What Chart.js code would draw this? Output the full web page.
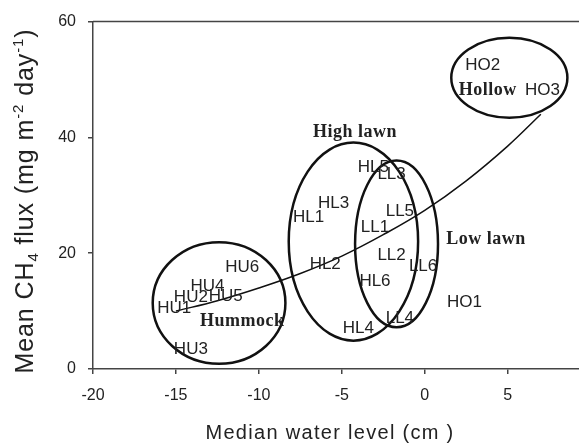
<!DOCTYPE html>
<html>
<head>
<meta charset="utf-8">
<script src="https://cdn.jsdelivr.net/npm/chart.js@4.4.1/dist/chart.umd.min.js"></script>
<style>
  html, body { margin: 0; padding: 0; background: #fff; }
  #wrap { position: relative; width: 579px; height: 445px; }
</style>
</head>
<body>
<div id="wrap"><canvas id="chart"></canvas></div>
<script>
// Sites: median water level (cm) vs mean CH4 flux
const siteNames = ['HU1', 'HU2', 'HU3', 'HU4', 'HU5', 'HU6',
                   'HL1', 'HL2', 'HL3', 'HL4', 'HL5', 'HL6',
                   'LL1', 'LL2', 'LL3', 'LL4', 'LL5', 'LL6',
                   'HO1', 'HO2', 'HO3'];
const waterLevel = [-15.1, -14.1, -14.1, -13.1, -12.0, -11.0,
                    -7.0, -6.0, -5.5, -4.0, -3.1, -3.0,
                    -3.0, -2.0, -2.0, -1.5, -1.5, -0.1,
                    2.4, 3.5, 7.1];
const ch4Flux = [10.5, 12.3, 3.4, 14.2, 12.6, 17.5,
                 26.2, 18.1, 28.7, 7.0, 34.8, 15.1,
                 24.5, 19.7, 33.7, 8.8, 27.3, 17.7,
                 11.6, 52.4, 48.2];

// Fitted curve
const curveX = [-15, -12.5, -10, -7.5, -5, -2.5, 0, 2.5, 5, 7];
const curveY = [10.0, 11.8, 14.0, 16.5, 19.5, 23.2, 27.4, 32.5, 38.5, 44.0];

// Vegetation groups (ellipse centre / half-widths and label spot, in data units)
const groupNames = ['Hummock', 'High lawn', 'Low lawn', 'Hollow'];
const groupCenterX = [-12.4, -4.3, -1.7, 5.1];
const groupCenterY = [11.4, 22.0, 21.6, 50.3];
const groupRadiusX = [4.0, 3.9, 2.5, 3.5];
const groupRadiusY = [10.5, 17.1, 14.4, 6.9];
const groupLabelX = [-11.0, -4.2, 3.7, 3.8];
const groupLabelY = [8.2, 40.8, 22.4, 48.2];

const xTicks = [-20, -15, -10, -5, 0, 5];
const yTicks = [0, 20, 40, 60];

const sans = '"Liberation Sans", Arial, sans-serif';
const serif = '"Liberation Serif", "Times New Roman", serif';
const ink = '#222';
const axisColor = '#444';

const drawExtras = {
    id: 'drawExtras',
    afterDatasetsDraw(chart) {
        const { ctx, chartArea, scales: { x, y } } = chart;
        ctx.save();

        // top frame line
        ctx.strokeStyle = axisColor;
        ctx.lineWidth = 1.5;
        ctx.beginPath();
        ctx.moveTo(chartArea.left, chartArea.top);
        ctx.lineTo(chartArea.right, chartArea.top);
        ctx.stroke();

        // group ellipses
        ctx.strokeStyle = '#111';
        ctx.lineWidth = 2.5;
        groupNames.forEach((g, i) => {
            const cx = x.getPixelForValue(groupCenterX[i]);
            const cy = y.getPixelForValue(groupCenterY[i]);
            const rx = Math.abs(x.getPixelForValue(groupCenterX[i] + groupRadiusX[i]) - cx);
            const ry = Math.abs(y.getPixelForValue(groupCenterY[i] + groupRadiusY[i]) - cy);
            ctx.beginPath();
            ctx.ellipse(cx, cy, rx, ry, 0, 0, Math.PI * 2);
            ctx.stroke();
        });

        // site labels at each point
        const meta = chart.getDatasetMeta(0);
        ctx.fillStyle = ink;
        ctx.font = '17px ' + sans;
        ctx.textAlign = 'center';
        ctx.textBaseline = 'middle';
        meta.data.forEach((pt, i) => {
            ctx.fillText(siteNames[i], pt.x, pt.y);
        });

        // group names
        ctx.font = 'bold 18px ' + serif;
        ctx.letterSpacing = '0.5px';
        groupNames.forEach((g, i) => {
            ctx.fillText(g, x.getPixelForValue(groupLabelX[i]), y.getPixelForValue(groupLabelY[i]));
        });
        ctx.restore();
    },
    afterDraw(chart) {
        const { ctx } = chart;
        ctx.save();
        ctx.fillStyle = ink;

        // x axis title
        ctx.font = '20px ' + sans;
        ctx.letterSpacing = '1.3px';
        ctx.textAlign = 'center';
        ctx.textBaseline = 'alphabetic';
        ctx.fillText('Median water level (cm )', 330, 439);

        // y axis title with sub/superscripts
        const parts = [['Mean CH', 0], ['4', 1], [' flux (mg m', 0], ['-2', -1], [' day', 0], ['-1', -1], [')', 0]];
        const big = '25px ' + sans, small = '15px ' + sans;
        ctx.letterSpacing = '0.9px';
        let total = 0;
        parts.forEach(p => { ctx.font = p[1] ? small : big; total += ctx.measureText(p[0]).width; });
        ctx.translate(33, 201);
        ctx.rotate(-Math.PI / 2);
        ctx.textAlign = 'left';
        let pos = -total / 2;
        parts.forEach(p => {
            ctx.font = p[1] ? small : big;
            const dy = p[1] === 1 ? 5 : (p[1] === -1 ? -10 : 0);
            ctx.fillText(p[0], pos, dy);
            pos += ctx.measureText(p[0]).width;
        });
        ctx.restore();
    }
};

function createChart() {
    const ctx = document.getElementById('chart').getContext('2d');
    return new Chart(ctx, {
        type: 'scatter',
        data: {
            datasets: [{
                label: 'Sites',
                data: waterLevel.map((v, i) => ({ x: v, y: ch4Flux[i] })),
                pointRadius: 0,
                pointHoverRadius: 0
            }, {
                label: 'Fit',
                type: 'line',
                data: curveX.map((v, i) => ({ x: v, y: curveY[i] })),
                borderColor: '#111',
                borderWidth: 1.5,
                pointRadius: 0,
                tension: 0.4,
                fill: false
            }]
        },
        options: {
            responsive: true,
            maintainAspectRatio: false,
            animation: false,
            layout: { padding: { top: 16, right: 0, bottom: 0, left: 0 } },
            plugins: {
                legend: { display: false },
                tooltip: { enabled: false }
            },
            scales: {
                x: {
                    type: 'linear',
                    min: -20,
                    max: 9.3,
                    afterBuildTicks: s => { s.ticks = xTicks.map(v => ({ value: v })); },
                    afterFit: s => { s.height = 76; },
                    grid: { drawOnChartArea: false, tickLength: 5, color: axisColor, lineWidth: 1.5 },
                    border: { color: axisColor, width: 1.5 },
                    ticks: { color: ink, font: { family: sans, size: 16 }, padding: 12, maxRotation: 0 }
                },
                y: {
                    type: 'linear',
                    min: 0,
                    max: 60,
                    afterBuildTicks: s => { s.ticks = yTicks.map(v => ({ value: v })); },
                    afterFit: s => { s.width = 93; },
                    grid: { drawOnChartArea: false, tickLength: 5, color: axisColor, lineWidth: 1.5 },
                    border: { color: axisColor, width: 1.5 },
                    ticks: { color: ink, font: { family: sans, size: 16 }, padding: 12 }
                }
            }
        },
        plugins: [drawExtras]
    });
}

createChart();
</script>
</body>
</html>
